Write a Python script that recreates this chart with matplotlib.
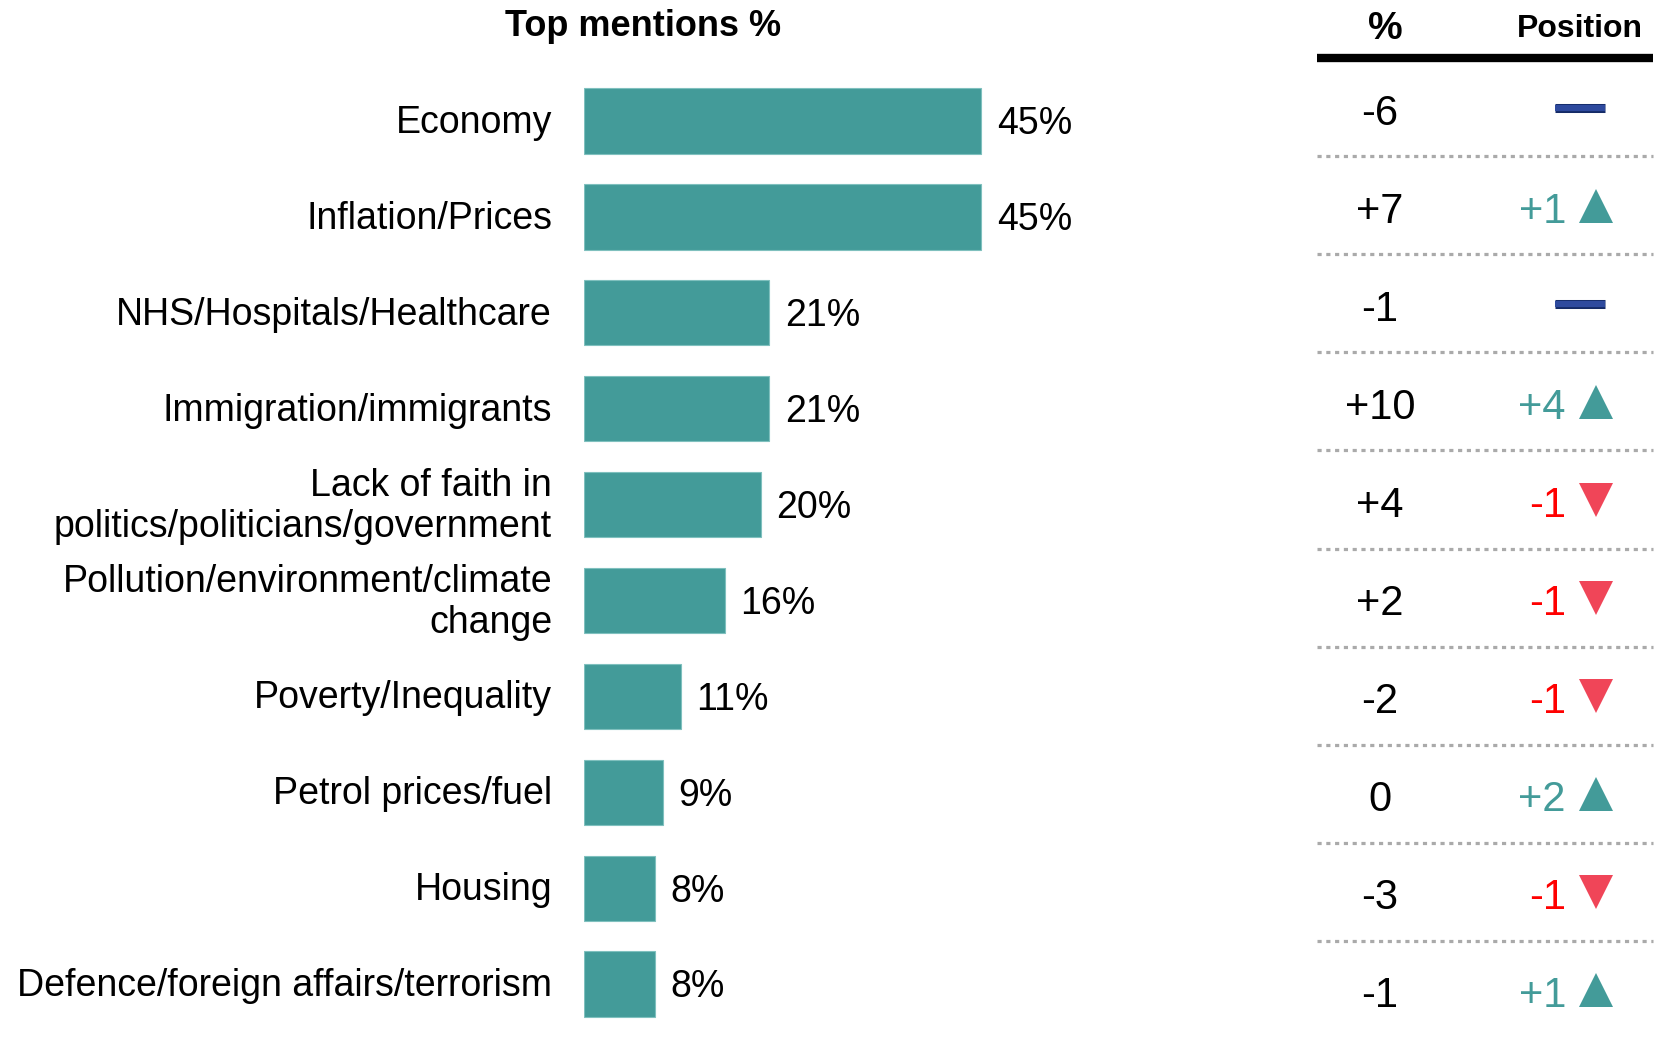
import matplotlib.pyplot as plt
import matplotlib.patheffects as pe
from matplotlib.lines import Line2D

plt.rcParams['font.family'] = ['Liberation Sans', 'DejaVu Sans']

# Datos del gráfico
categorias = ['Economy', 'Inflation/Prices', 'NHS/Hospitals/Healthcare',
              'Immigration/immigrants',
              'Lack of faith in\npolitics/politicians/government',
              'Pollution/environment/climate\nchange', 'Poverty/Inequality',
              'Petrol prices/fuel', 'Housing',
              'Defence/foreign affairs/terrorism']
porcentajes = [45, 45, 21, 21, 20, 16, 11, 9, 8, 8]
cambio_pct = ['-6', '+7', '-1', '+10', '+4', '+2', '-2', '0', '-3', '-1']
cambio_pos = [0, 1, 0, 4, -1, -1, -1, 2, -1, 1]

TEAL = '#439b99'
ROJO = '#ff0000'
ROJO_TRI = '#f04558'
AZUL = '#2e4a9e'

W, H = 1670, 1037
fig = plt.figure(figsize=(W / 100, H / 100), dpi=100)

# Panel de barras (coordenadas en pixeles para ubicar el eje)
px_por_pct = 8.83
izq, ancho = 584, 600
fila0, paso = 121, 95.9
top = fila0 - paso / 2
alto = paso * 10
ax = fig.add_axes([izq / W, 1 - (top + alto) / H, ancho / W, alto / H])
ax.set_xlim(0, ancho / px_por_pct)
ax.set_ylim(9.5, -0.5)
ax.axis('off')

filas = list(range(len(categorias)))
ax.barh(filas, porcentajes, height=0.68, color=TEAL, edgecolor='#7fc0be', linewidth=0.8)
for i, (cat, v) in enumerate(zip(categorias, porcentajes)):
    ax.annotate(f'{v}%', xy=(v, i), xytext=(11, 0.5), textcoords='offset points',
                ha='left', va='center_baseline', fontsize=27)
    ax.annotate(cat, xy=(0, i), xytext=(-23, -1.5), textcoords='offset points',
                ha='right', va='center', fontsize=27, multialignment='right',
                linespacing=1.18)

fig.text(643 / W, 1 - 27 / H, 'Top mentions %', ha='center', va='center',
         fontsize=26, fontweight='bold')

# Panel de la tabla de cambios
ax2 = fig.add_axes([0, 0, 1, 1])
fila0_t, paso_t = 111, 98.1
ax2.set_xlim(0, W)
ax2.set_ylim((H - fila0_t) / paso_t, -fila0_t / paso_t)
ax2.axis('off')

x_ini, x_fin = 1317, 1653
x_pct, x_pos_txt, x_marca = 1380, 1566, 1596

ax2.text(1385, -0.84, '%', ha='center', va='center', fontsize=28, fontweight='bold')
ax2.text(1580, -0.84, 'Position', ha='center', va='center', fontsize=23, fontweight='bold')
ax2.add_line(Line2D([x_ini, x_fin], [-0.54, -0.54], color='black', lw=6,
                    solid_capstyle='butt'))

for i in filas:
    ax2.text(x_pct, i - 0.02, cambio_pct[i], ha='center', va='center_baseline', fontsize=30)
    p = cambio_pos[i]
    if p == 0:
        ax2.plot([1555, 1605], [i - 0.035, i - 0.035], color=AZUL, lw=4.5,
                 solid_capstyle='butt',
                 path_effects=[pe.Stroke(linewidth=6.5, foreground='#142a66'), pe.Normal()])
    else:
        col_txt = TEAL if p > 0 else ROJO
        etiqueta = f'+{p}' if p > 0 else f'{p}'
        ax2.text(x_pos_txt, i - 0.02, etiqueta, ha='right', va='center_baseline', fontsize=30,
                 color=col_txt)
        marca = '^' if p > 0 else 'v'
        col_m = TEAL if p > 0 else ROJO_TRI
        ax2.plot([x_marca], [i - 0.035], marker=marca, markersize=24, color=col_m,
                 markeredgewidth=0)
    if i < len(filas) - 1:
        ax2.add_line(Line2D([x_ini, x_fin], [i + 0.46, i + 0.46], color='#aaaaaa',
                            lw=2.3, linestyle=(0, (1.3, 1.45))))

fig.savefig('out.png', dpi=100)
